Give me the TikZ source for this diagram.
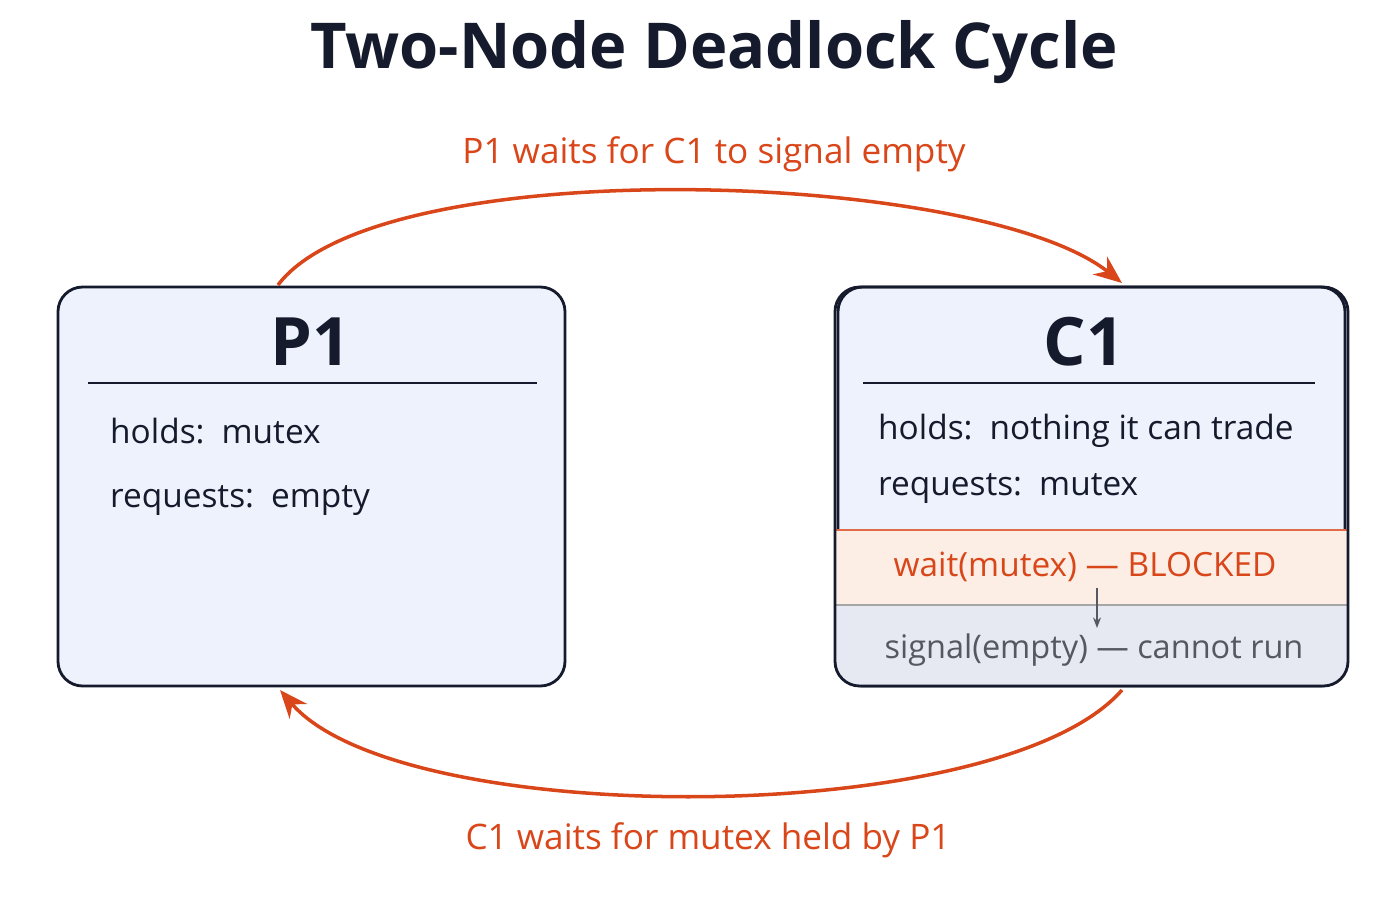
\documentclass[tikz,border=0pt]{standalone}
\usepackage{fontspec}
\setmainfont{Open Sans}
\usetikzlibrary{arrows.meta, positioning}
\definecolor{boxfill}{HTML}{EEF2FC}
\definecolor{boxline}{HTML}{151A2C}
\definecolor{waitred}{HTML}{D9461A}
\definecolor{blockfill}{HTML}{FCEEE4}
\definecolor{runfill}{HTML}{E6E8F2}
\definecolor{rungray}{HTML}{555861}
\tikzset{
  procbox/.style={draw=boxline, line width=1.6pt, fill=boxfill, rounded corners=14pt,
    minimum width=507*0.02cm, minimum height=399*0.02cm, inner sep=0pt},
  proctitle/.style={font=\bfseries\fontsize{38}{40}\selectfont, text=boxline},
  procline/.style={font=\fontsize{19}{23}\selectfont, text=boxline, anchor=west},
  waitarrow/.style={draw=waitred, line width=2pt, -{Stealth[length=16pt, width=13pt]}},
  waitlabel/.style={font=\fontsize{20}{24}\selectfont, text=waitred}
}
\begin{document}
\begin{tikzpicture}[x=0.02cm, y=-0.02cm]
\useasboundingbox (0,0) rectangle (1400,900);

%Title
\node[font=\bfseries\fontsize{36}{40}\selectfont, text=boxline] (title) at (714,52) {Two-Node Deadlock Cycle};

%P1 box
\node[procbox] (p1) at (311.5,486.5) {};
\node[proctitle] (p1name) at (311,342) {P1};
\draw[boxline, line width=1pt] (88,383) -- (537,383);
\node[procline] (p1holds) at (104,431) {holds:\, mutex};
\node[procline] (p1req) at (104,500) {requests:\, empty};

%C1 box
\node[procbox] (c1) at (1091.5,486.5) {};
\begin{scope}
  \clip[rounded corners=14pt] (835,287) rectangle (1348,686);
  \fill[blockfill] (835,530) rectangle (1348,605);
  \fill[runfill] (835,605) rectangle (1348,686);
\end{scope}
\draw[waitred!80, line width=1pt] (835,530) -- (1348,530);
\draw[gray!70, line width=1pt] (835,605) -- (1348,605);
\draw[boxline, line width=1.6pt, rounded corners=14pt] (835,287) rectangle (1348,686);
\node[proctitle] (c1name) at (1084,342) {C1};
\draw[boxline, line width=1pt] (863,383) -- (1315,383);
\node[procline] (c1holds) at (872,431) {holds:\, nothing it can trade};
\node[procline] (c1req) at (872,488) {requests:\, mutex};
\node[waitlabel, font=\fontsize{19}{23}\selectfont] (c1wait) at (1085,567) {wait(mutex) — BLOCKED};
\node[font=\fontsize{18.5}{23}\selectfont, text=rungray] (c1sig) at (1094,650) {signal(empty) — cannot run};
\coordinate (stepfrom) at (1097,588);
\coordinate (stepto) at (1097,628);
\draw[rungray, line width=1pt, -{Stealth[length=6pt]}] (stepfrom) -- (stepto);

%Wait cycle
\coordinate (p1top) at (278,285);
\coordinate (c1top) at (1122,283);
\coordinate (c1bot) at (1122,690);
\coordinate (p1bot) at (280,690);
\draw[waitarrow] (p1top) .. controls (380,150) and (980,170) .. (c1top);
\draw[waitarrow] (c1bot) .. controls (1000,830) and (400,830) .. (p1bot);
\node[waitlabel] (toplabel) at (714,154) {P1 waits for C1 to signal empty};
\node[waitlabel] (botlabel) at (708,840) {C1 waits for mutex held by P1};
\end{tikzpicture}
\end{document}
